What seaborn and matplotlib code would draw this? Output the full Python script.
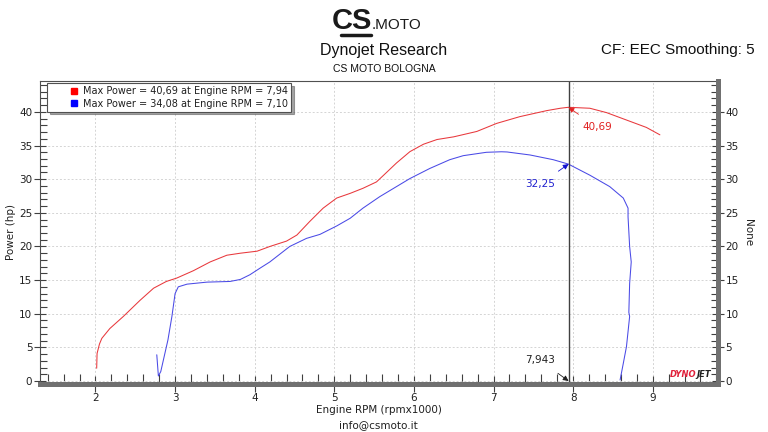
import matplotlib
matplotlib.use('Agg')
import matplotlib.pyplot as plt
import seaborn as sns
from matplotlib.lines import Line2D
from matplotlib.ticker import MultipleLocator

sns.set_theme(style='white')
plt.rcParams['font.family'] = ['DejaVu Sans']

# ---------------- data ----------------
red_rpm = [2.015, 2.02, 2.05, 2.08, 2.18, 2.35, 2.56, 2.73, 2.89, 3.02, 3.23, 3.44, 3.65, 3.82,
           4.03, 4.19, 4.40, 4.53, 4.69, 4.86, 5.03, 5.20, 5.36, 5.53, 5.62, 5.78, 5.95, 6.12,
           6.29, 6.50, 6.79, 7.04, 7.33, 7.67, 7.84, 7.94, 8.21, 8.42, 8.67, 8.92, 9.09]
red_hp = [1.9, 4.1, 5.5, 6.35, 7.8, 9.6, 12.0, 13.8, 14.8, 15.3, 16.4, 17.7, 18.7, 19.0,
          19.3, 20.0, 20.8, 21.7, 23.7, 25.7, 27.2, 27.9, 28.65, 29.6, 30.6, 32.4, 34.1, 35.2,
          35.9, 36.3, 37.1, 38.3, 39.3, 40.2, 40.55, 40.69, 40.55, 39.9, 38.8, 37.7, 36.6]

blue_rpm = [2.77, 2.79, 2.82, 2.91, 2.96, 3.00, 3.04, 3.15, 3.40, 3.69, 3.82, 3.94, 4.07, 4.19,
            4.44, 4.65, 4.82, 5.03, 5.20, 5.36, 5.57, 5.95, 6.20, 6.45, 6.62, 6.91, 7.10, 7.17,
            7.46, 7.75, 7.94, 8.21, 8.46, 8.63, 8.69, 8.69, 8.71, 8.73, 8.71, 8.70, 8.71, 8.67,
            8.63, 8.59]
blue_hp = [3.9, 0.75, 1.4, 6.1, 9.6, 13.0, 14.0, 14.4, 14.7, 14.8, 15.1, 15.8, 16.8, 17.7,
           20.0, 21.2, 21.8, 23.05, 24.2, 25.7, 27.4, 30.1, 31.6, 32.9, 33.5, 34.0, 34.08, 34.05,
           33.6, 32.9, 32.25, 30.6, 28.9, 27.2, 25.7, 24.4, 20.0, 17.7, 14.5, 10.2, 9.6, 5.1,
           2.6, 0.15]

x_ticks = [2, 3, 4, 5, 6, 7, 8, 9]
y_ticks = [0, 5, 10, 15, 20, 25, 30, 35, 40]
legend_labels = ["Max Power = 40,69 at Engine RPM = 7,94",
                 "Max Power = 34,08 at Engine RPM = 7,10"]
cursor_rpm = 7.943
cursor_label = "7,943"
red_cursor_hp = 40.69
red_cursor_label = "40,69"
blue_cursor_hp = 32.25
blue_cursor_label = "32,25"

RED = '#e8383c'
BLUE = '#4a4ae6'
RED_M = '#ff0000'
BLUE_M = '#0000ff'

# ---------------- figure ----------------
fig = plt.figure(figsize=(7.68, 4.32), dpi=100)
fig.patch.set_facecolor('white')
ax = fig.add_axes([40/768, (432-383.5)/432, 678/768, (383.5-81)/432])
ax.set_xlim(1.303, 9.82)
ax.set_ylim(-0.37, 44.6)

ax.set_axisbelow(True)
ax.grid(True, which='major', color='#d4d4d4', linestyle=(0, (2, 2)), linewidth=0.7)

sns.lineplot(x=red_rpm, y=red_hp, ax=ax, color=RED, sort=False, estimator=None, linewidth=0.75)
sns.lineplot(x=blue_rpm, y=blue_hp, ax=ax, color=BLUE, sort=False, estimator=None, linewidth=0.75)

# cursor line
ax.axvline(cursor_rpm, color='#404040', linewidth=1.0)

ax.annotate(red_cursor_label, xy=(cursor_rpm, red_cursor_hp), xytext=(8.30, 37.7),
            color='#e02020', fontsize=7.5, ha='center', va='center',
            arrowprops=dict(arrowstyle='-|>', color='#e02020', lw=0.6, mutation_scale=8, shrinkA=6, shrinkB=0))
ax.annotate(blue_cursor_label, xy=(cursor_rpm, blue_cursor_hp), xytext=(7.58, 29.25),
            color='#2020d0', fontsize=7.5, ha='center', va='center',
            arrowprops=dict(arrowstyle='-|>', color='#1010d0', lw=0.6, mutation_scale=8, shrinkA=6, shrinkB=0))
ax.annotate(cursor_label, xy=(cursor_rpm, 0), xytext=(7.58, 3.1),
            color='#202020', fontsize=7.5, ha='center', va='center',
            arrowprops=dict(arrowstyle='-|>', color='#202020', lw=0.6, mutation_scale=8, shrinkA=6, shrinkB=0))

# DYNOJET logo text
ax.text(9.55, 0.3, 'DYNO', color='#e0203a', fontsize=6, fontweight='bold', style='italic',
        ha='right', va='bottom')
ax.text(9.55, 0.3, 'JET', color='#202020', fontsize=6, fontweight='bold', style='italic',
        ha='left', va='bottom')

# axes styling
ax.xaxis.set_major_locator(plt.FixedLocator(x_ticks))
ax.xaxis.set_minor_locator(MultipleLocator(0.2))
ax.yaxis.set_major_locator(plt.FixedLocator(y_ticks))
ax.yaxis.set_minor_locator(MultipleLocator(1))
ax.tick_params(axis='x', which='major', direction='inout', length=11, width=0.8, color='#404040',
               labelsize=7.5, labelcolor='#202020', pad=1, bottom=True)
ax.tick_params(axis='x', which='minor', direction='in', length=7, width=0.8, color='#404040', bottom=True)
ax.tick_params(axis='y', which='major', direction='inout', length=9, width=0.8, color='#404040',
               labelsize=7.5, labelcolor='#202020', pad=1, left=True)
ax.tick_params(axis='y', which='minor', direction='in', length=5, width=0.8, color='#404040', left=True)

for s in ['left', 'top']:
    ax.spines[s].set_color('#505050')
    ax.spines[s].set_linewidth(0.8)
ax.spines['right'].set_visible(False)
ax.spines['bottom'].set_color('#707070')
ax.spines['bottom'].set_linewidth(3.6)

ax.set_xlabel('Engine RPM (rpmx1000)', fontsize=7.5, color='#202020', labelpad=2)
ax.set_ylabel('Power (hp)', fontsize=7.5, color='#202020', labelpad=2)

ax2 = ax.twinx()
ax2.set_ylim(ax.get_ylim())
ax2.yaxis.set_major_locator(plt.FixedLocator(y_ticks))
ax2.yaxis.set_minor_locator(MultipleLocator(1))
ax2.tick_params(axis='y', which='major', direction='inout', length=9, width=0.8, color='#404040',
                labelsize=7.5, labelcolor='#202020', pad=1, right=True)
ax2.tick_params(axis='y', which='minor', direction='in', length=5, width=0.8, color='#404040', right=True)
for s in ['left', 'top', 'bottom']:
    ax2.spines[s].set_visible(False)
ax2.spines['right'].set_color('#707070')
ax2.spines['right'].set_linewidth(3.6)
ax2.set_ylabel('None', fontsize=7.5, color='#202020', rotation=270, labelpad=10)
ax2.grid(False)

# legend
handles = [Line2D([], [], marker='s', linestyle='none', color=RED_M, markersize=5),
           Line2D([], [], marker='s', linestyle='none', color=BLUE_M, markersize=5)]
leg = ax.legend(handles, legend_labels, loc='upper left', bbox_to_anchor=(0.0105, 0.992),
                fontsize=7.0, frameon=True, fancybox=False, shadow=True, borderaxespad=0,
                handlelength=5.0, handletextpad=-1.6, borderpad=0.3, labelspacing=0.25)
leg.get_frame().set_edgecolor('#505050')
leg.get_frame().set_linewidth(0.8)
for t in leg.get_texts():
    t.set_color('#202020')

# header texts
hdr = ['Liberation Sans', 'DejaVu Sans']
fig.text(0.5, 1 - 50/432, 'Dynojet Research', fontsize=11.5, family=hdr, ha='center', va='center', color='#101010')
fig.text(0.5, 1 - 69/432, 'CS MOTO BOLOGNA', fontsize=7.5, family=hdr, ha='center', va='center', color='#101010')
fig.text(678/768, 1 - 50/432, 'CF: EEC Smoothing: 5', fontsize=11, family=hdr, ha='center', va='center', color='#101010')
fig.text(372/768, 1 - 21/432, 'CS', fontsize=21, family=hdr, fontweight='bold', ha='right', va='center', color='#1a1a1a')
fig.text(372/768, 1 - 25/432, '.MOTO', fontsize=11, family=hdr, ha='left', va='center', color='#1a1a1a')
fig.add_artist(Line2D([341/768, 371/768], [1 - 35/432, 1 - 35/432], color='#1a1a1a', linewidth=2.5))
fig.text(378/768, 1 - 425/432, 'info@csmoto.it', fontsize=7.5, ha='center', va='center', color='#202020')

fig.savefig('out.png', dpi=100, facecolor='white')
